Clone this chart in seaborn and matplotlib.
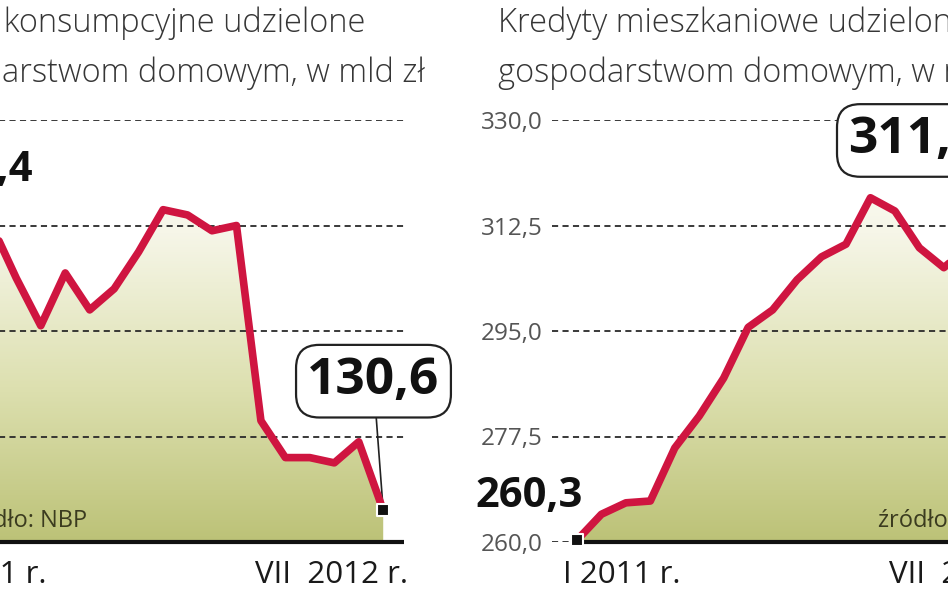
import numpy as np
import pandas as pd
import matplotlib
matplotlib.use("Agg")
import matplotlib.pyplot as plt
import seaborn as sns
from matplotlib.patches import Polygon
from matplotlib.colors import LinearSegmentedColormap

# dane NBP, I 2011 - VII 2012, mld zł
months = pd.period_range("2011-01", "2012-07", freq="M")
consumer = [136.4, 136.2, 136.0, 135.0, 134.1, 135.1, 134.4, 134.8, 135.5, 136.3,
            136.2, 135.9, 136.0, 132.3, 131.6, 131.6, 131.5, 131.9, 130.6]
mortgage = [260.3, 264.6, 266.5, 266.8, 275.6, 280.9, 287.2, 295.6, 298.5, 303.5,
            307.3, 309.4, 317.1, 314.9, 308.8, 305.5, 309.0, 310.5, 311.4]

consumer_ticks = [130.0, 132.0, 134.0, 136.0, 138.0]
mortgage_ticks = [260.0, 277.5, 295.0, 312.5, 330.0]

consumer_title = ["Kredyty konsumpcyjne udzielone", "gospodarstwom domowym, w mld zł"]
mortgage_title = ["Kredyty mieszkaniowe udzielone", "gospodarstwom domowym, w mld zł"]
date_labels = ["I 2011 r.", "VII  2012 r."]
source = "źródło: NBP"

RED = "#cf1540"
fill_cmap = LinearSegmentedColormap.from_list("olive", ["#bcc277", "#dde0b0", "#f6f6e8", "#ffffff"])


def fmt(v):
    return f"{v:.1f}".replace(".", ",")


def draw_panel(ax, values, ticks, title, opts):
    x = np.arange(len(values))
    ymin, ymax = ticks[0], ticks[-1]

    # gradient fill under the line
    verts = [(x[0], ymin)] + list(zip(x, values)) + [(x[-1], ymin)]
    poly = Polygon(verts, closed=True, facecolor="none", edgecolor="none")
    ax.add_patch(poly)
    grad = np.linspace(0, 1, 256).reshape(-1, 1)
    im = ax.imshow(grad, extent=[x[0], x[-1], ymin, ymax + (ymax - ymin) * 0.1],
                   origin="lower", cmap=fill_cmap, aspect="auto", zorder=1)
    im.set_clip_path(poly)

    sns.lineplot(x=x, y=values, ax=ax, color=RED, linewidth=5.5, zorder=4)

    ax.set_xlim(-1.02, 18.85)
    ax.set_ylim(ymin, ymax)
    ax.set_yticks(ticks)
    ax.set_yticklabels([fmt(t) for t in ticks])
    ax.set_xticks([])
    ax.tick_params(axis="y", length=0, pad=7, labelsize=17.5, labelcolor="#555555")
    ax.set_axisbelow(False)
    ax.grid(axis="y", color="#2a2a2a", linewidth=1.3, linestyle=(0, (3.4, 2.4)), zorder=2)
    ax.grid(axis="x", visible=False)
    for s in ax.spines.values():
        s.set_visible(False)
    ax.set_facecolor("none")

    # baseline
    ax.hlines(ymin, x[0], 18.85, color="#111111", linewidth=3, zorder=5, clip_on=False)

    # end markers
    ax.scatter([x[0], x[-1]], [values[0], values[-1]], marker="s", s=80,
               color="#111111", edgecolor="white", linewidth=1.5, zorder=6, clip_on=False)

    # start value
    ax.annotate(fmt(values[0]), xy=(x[0], values[0]), xytext=opts["start"],
                textcoords="offset points", ha="right", va="baseline",
                fontsize=30, fontweight="bold", color="#111111", annotation_clip=False)

    # end value in a box
    ax.annotate(fmt(values[-1]), xy=(x[-1], values[-1]), xytext=opts["end"],
                textcoords="offset points", ha="center", va="center",
                fontsize=37, fontweight="bold", color="#111111", annotation_clip=False,
                bbox=dict(boxstyle="round,pad=0.22,rounding_size=0.45", fc="white",
                          ec="#222222", lw=1.6),
                arrowprops=dict(arrowstyle="-", color="#222222", lw=1.2,
                                shrinkA=0, shrinkB=5))

    # dates under the axis
    ax.annotate(date_labels[0], xy=(x[0], ymin), xytext=(-10, -29.5), textcoords="offset points",
                ha="left", va="baseline", fontsize=22.5, color="#1a1a1a", annotation_clip=False)
    ax.annotate(date_labels[1], xy=(x[-1], ymin), xytext=(18, -29.5), textcoords="offset points",
                ha="right", va="baseline", fontsize=22.5, color="#1a1a1a", annotation_clip=False)

    # source
    ax.annotate(source, xy=(0, 0), xycoords="axes fraction", xytext=(opts["source_dx"], 11),
                textcoords="offset points", ha=opts["source_ha"], va="baseline",
                fontsize=17, color="#3b3b1f", zorder=6)

    # two-line title
    ax.annotate(title[0], xy=(opts["title_x"], 1), xycoords="axes fraction",
                xytext=(opts["title_dx"][0], 63.5), textcoords="offset points",
                ha=opts["title_ha"], va="baseline", fontsize=23.5, fontweight="light",
                color="#363636", annotation_clip=False)
    ax.annotate(title[1], xy=(opts["title_x"], 1), xycoords="axes fraction",
                xytext=(opts["title_dx"][1], 27.4), textcoords="offset points",
                ha=opts["title_ha"], va="baseline", fontsize=23.5, fontweight="light",
                color="#363636", annotation_clip=False)


sns.set_theme(style="white")
plt.rcParams["font.family"] = ["Open Sans", "DejaVu Sans"]

fig = plt.figure(figsize=(9.48, 5.93), dpi=100)
fig.patch.set_facecolor("white")

bottom = 1 - 542 / 593
height = (542 - 120) / 593
width = 486 / 948
ax_left = fig.add_axes([-82 / 948, bottom, width, height])
ax_right = fig.add_axes([552 / 948, bottom, width, height])

# left panel: title right-aligned to the visible part of the crop
draw_panel(ax_left, consumer, consumer_ticks, consumer_title,
           dict(start=(65, 17), end=(-7, 93), title_x=1, title_ha="right",
                title_dx=(-28, 15), source_dx=122, source_ha="right"))
# right panel
draw_panel(ax_right, mortgage, mortgage_ticks, mortgage_title,
           dict(start=(4, 24), end=(-74, 66), title_x=0, title_ha="left",
                title_dx=(-39, -39), source_dx=235, source_ha="left"))

fig.savefig("out.png", dpi=100)
